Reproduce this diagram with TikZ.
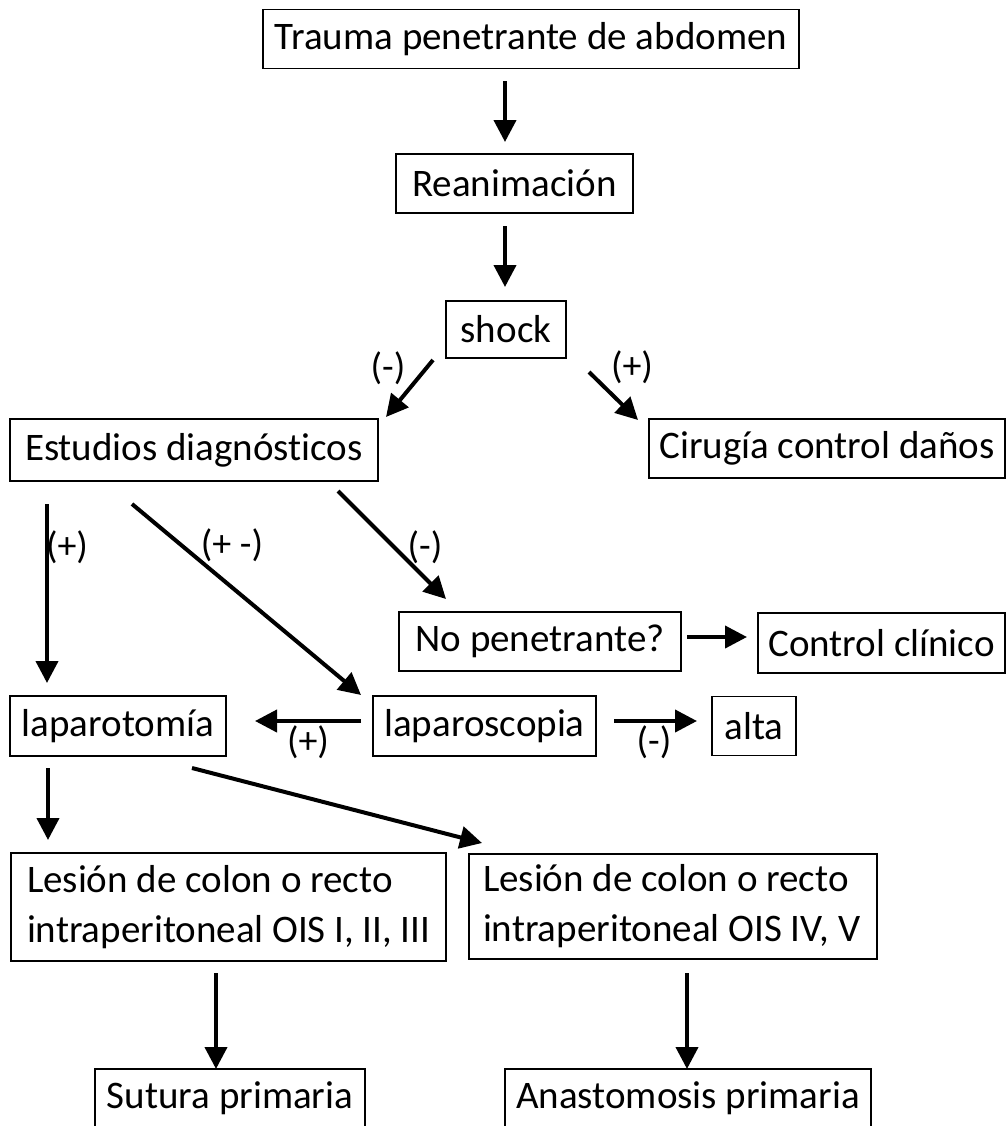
\documentclass[tikz,border=0pt]{standalone}
\usepackage{fontspec}
\setmainfont[Ligatures=NoCommon]{Carlito}
\usetikzlibrary{arrows.meta}
\tikzset{
  box/.style={draw, line width=0.75pt, inner sep=0pt, minimum height=29.5pt,
    font=\fontsize{19.5}{25}\selectfont},
  twoline/.style={box, align=flush left, inner xsep=8pt, minimum height=54pt},
  flow/.style={-{Triangle[length=11pt,width=11pt]}, line width=2pt},
  lbl/.style={inner sep=0pt, font=\fontsize{19}{22}\selectfont}
}

\begin{document}
\begin{tikzpicture}[x=0.5pt, y=-0.5pt]
\useasboundingbox (0,0) rectangle (1006,1126);

% boxes
\node[box, minimum width=268pt] (trauma) at (531,39) {Trauma penetrante de abdomen};
\node[box, minimum width=118.5pt] (reanim) at (514.5,183.5) {Reanimación};
\node[box, minimum width=60pt, minimum height=28.5pt] (shock) at (506,329.5) {shock};
\node[box, minimum width=184pt, minimum height=31pt] (estudios) at (194,450) {Estudios diagnósticos};
\node[box, minimum width=178pt] (cirugia) at (827,448.5) {Cirugía control daños};
\node[box, minimum width=141pt] (nopen) at (540,641.5) {No penetrante?};
\node[box, minimum width=123.5pt, minimum height=30pt] (control) at (881.5,643) {Control clínico};
\node[box, minimum width=108pt, minimum height=30pt] (laparot) at (118,726) {laparotomía};
\node[box, minimum width=111.5pt, minimum height=30pt] (laparosc) at (484.5,726) {laparoscopia};
\node[box, minimum width=42pt] (alta) at (754,726) {alta};
\node[twoline, text width=201.5pt] (lesion1) at (228.5,907)
  {Lesión de colon o recto\\intraperitoneal OIS I, II, III};
\node[twoline, text width=190pt, inner xsep=7pt, minimum height=52.5pt] (lesion2) at (673,906.5)
  {Lesión de colon o recto\\intraperitoneal OIS IV, V};
\node[box, minimum width=135pt] (sutura) at (230,1098.5) {Sutura primaria};
\node[box, minimum width=183pt] (anast) at (688,1098.5) {Anastomosis primaria};

% arrow ends
\coordinate (trauma-out) at (505,81);    \coordinate (reanim-in) at (505,142);
\coordinate (reanim-out) at (505,226);   \coordinate (shock-in) at (505,287);
\coordinate (shock-neg) at (433,360);    \coordinate (estudios-in) at (386,417);
\coordinate (shock-pos) at (589,372);    \coordinate (cirugia-in) at (638,420);
\coordinate (est-pos) at (47,504);       \coordinate (laparot-in) at (47,683);
\coordinate (est-mid) at (132,504);      \coordinate (laparosc-in) at (361,695);
\coordinate (est-neg) at (338,491);      \coordinate (nopen-in) at (446,599);
\coordinate (nopen-out) at (687,637);    \coordinate (control-in) at (747,637);
\coordinate (lsc-left) at (361,721);     \coordinate (laparot-east) at (255,721);
\coordinate (lsc-right) at (614,721);    \coordinate (alta-in) at (697,721);
\coordinate (lap-down) at (48,768);      \coordinate (lesion1-in) at (48,840);
\coordinate (lap-diag) at (192,768);     \coordinate (lesion2-in) at (482,843);
\coordinate (lesion1-out) at (216,973);  \coordinate (sutura-in) at (216,1069);
\coordinate (lesion2-out) at (687,973);  \coordinate (anast-in) at (687,1069);

% arrows
\foreach \a/\b in {trauma-out/reanim-in, reanim-out/shock-in, shock-neg/estudios-in,
    shock-pos/cirugia-in, est-pos/laparot-in, est-mid/laparosc-in, est-neg/nopen-in,
    nopen-out/control-in, lsc-left/laparot-east, lsc-right/alta-in, lap-down/lesion1-in,
    lap-diag/lesion2-in, lesion1-out/sutura-in, lesion2-out/anast-in}
  \draw[flow] (\a) -- (\b);

% branch labels
\node[lbl] (l-shock-neg) at (388,368) {(-)};
\node[lbl] (l-shock-pos) at (632,367) {(+)};
\node[lbl] (l-est-pos) at (67,547) {(+)};
\node[lbl] (l-est-mid) at (232,545) {(+ -)};
\node[lbl] (l-est-neg) at (425,547) {(-)};
\node[lbl] (l-lsc-pos) at (308,742) {(+)};
\node[lbl] (l-lsc-neg) at (654,742) {(-)};
\end{tikzpicture}
\end{document}
